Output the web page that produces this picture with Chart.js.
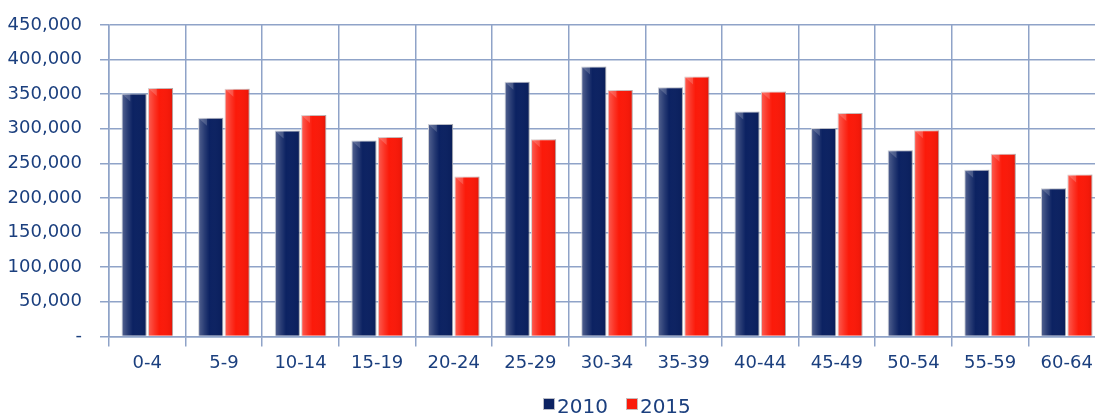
<!DOCTYPE html>
<html>
<head>
<meta charset="utf-8">
<script src="https://cdn.jsdelivr.net/npm/chart.js@4/dist/chart.umd.min.js"></script>
<style>
  html, body { margin: 0; padding: 0; background: #fff; overflow: hidden; }
  #wrap { width: 1107px; height: 415px; position: relative; }
  #legend { position: absolute; top: 396px; left: 543px; display: flex; align-items: flex-start;
            font-family: 'DejaVu Sans'; font-size: 20px; line-height: 20px; color: #1b3f7e; }
  #legend .box { width: 12px; height: 12px; margin-top: 2px; margin-right: 2px; box-sizing: border-box; }
  #legend .item { display: flex; align-items: flex-start; margin-right: 18px; }
</style>
</head>
<body>
<div id="wrap">
  <canvas id="chart"></canvas>
  <div id="legend"></div>
</div>
<script>
// 年齢階級
const ageGroups = ['0-4', '5-9', '10-14', '15-19', '20-24', '25-29', '30-34',
                   '35-39', '40-44', '45-49', '50-54', '55-59', '60-64'];
// 人口（2010年 / 2015年）
const pop2010 = [351000, 316000, 297500, 283000, 307000, 368000, 390000,
                 360000, 325000, 301000, 269000, 241000, 214000];
const pop2015 = [359000, 358000, 320000, 288000, 231000, 285000, 356000,
                 375500, 354000, 323000, 298000, 264000, 234000];

const labelColor = '#1b3f7e';
const gridColor = '#8fa3c8';
const blue = '#0c2262';
const red = '#fb1a0a';

// 棒に立体感を付けるプラグイン
const bevelPlugin = {
    id: 'bevel',
    afterDatasetsDraw(chart) {
        const ctx = chart.ctx;
        chart.data.datasets.forEach((ds, i) => {
            const meta = chart.getDatasetMeta(i);
            meta.data.forEach(bar => {
                const { x, y, width, base } = bar.getProps(['x', 'y', 'width', 'base'], true);
                const left = x - width / 2;
                const g = ctx.createLinearGradient(left, 0, left + width, 0);
                g.addColorStop(0, 'rgba(255,255,255,0.30)');
                g.addColorStop(0.25, 'rgba(255,255,255,0.12)');
                g.addColorStop(0.45, 'rgba(255,255,255,0)');
                g.addColorStop(0.85, 'rgba(0,0,0,0.03)');
                g.addColorStop(1, 'rgba(0,0,0,0.12)');
                ctx.save();
                ctx.fillStyle = g;
                ctx.fillRect(left, y, width, base - y);
                // 上部の面取り
                ctx.fillStyle = 'rgba(255,255,255,0.18)';
                ctx.beginPath();
                ctx.moveTo(left, y);
                ctx.lineTo(left + width * 0.35, y);
                ctx.lineTo(left + width * 0.35, y + 8);
                ctx.closePath();
                ctx.fill();
                ctx.restore();
            });
        });
    }
};

const ctx = document.getElementById('chart').getContext('2d');
const chart = new Chart(ctx, {
    type: 'bar',
    data: {
        labels: ageGroups,
        datasets: [
            {
                label: '2010',
                data: pop2010,
                backgroundColor: blue,
                borderColor: '#b9bcc6',
                borderWidth: 1,
                categoryPercentage: 0.69,
                barPercentage: 0.95
            },
            {
                label: '2015',
                data: pop2015,
                backgroundColor: red,
                borderColor: '#c9b9b9',
                borderWidth: 1,
                categoryPercentage: 0.69,
                barPercentage: 0.95
            }
        ]
    },
    options: {
        responsive: true,
        maintainAspectRatio: false,
        animation: false,
        layout: { padding: { left: 0, top: 25, right: 2, bottom: 35 } },
        scales: {
            x: {
                grid: { color: gridColor, lineWidth: 1.5, tickLength: 10, offset: true },
                border: { color: gridColor, width: 1.5 },
                ticks: {
                    color: labelColor,
                    font: { family: 'DejaVu Sans', size: 18 },
                    padding: 6,
                    maxRotation: 0
                }
            },
            y: {
                min: 0,
                max: 450000,
                afterFit: scale => { scale.width = 109; scale.paddingTop = 0; scale.paddingBottom = 0; },
                grid: { color: gridColor, lineWidth: 1.5, tickLength: 9 },
                border: { color: gridColor, width: 1.5 },
                ticks: {
                    stepSize: 50000,
                    color: labelColor,
                    font: { family: 'DejaVu Sans', size: 18 },
                    padding: 18,
                    callback: v => v === 0 ? '-' : v.toLocaleString('en-US')
                }
            }
        },
        plugins: {
            legend: { display: false },
            tooltip: { enabled: false }
        }
    },
    plugins: [bevelPlugin]
});

// 凡例（HTML）
const legendEl = document.getElementById('legend');
chart.data.datasets.forEach(ds => {
    const item = document.createElement('span');
    item.className = 'item';
    const box = document.createElement('span');
    box.className = 'box';
    box.style.background = ds.backgroundColor;
    box.style.border = '1px solid ' + ds.borderColor;
    const text = document.createElement('span');
    text.textContent = ds.label;
    item.appendChild(box);
    item.appendChild(text);
    legendEl.appendChild(item);
});
</script>
</body>
</html>
